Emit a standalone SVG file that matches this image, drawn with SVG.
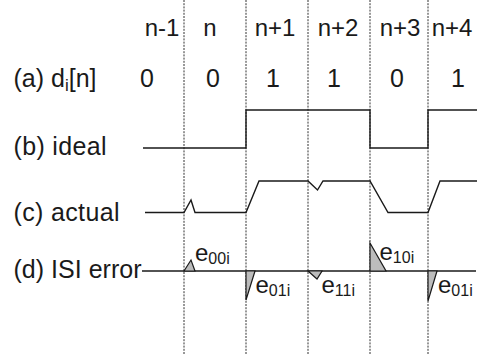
<svg xmlns="http://www.w3.org/2000/svg" width="489" height="354" viewBox="0 0 489 354">
<style>
text{font-family:"Liberation Sans",Arial,sans-serif;fill:#1a1a1a}
.lab{font-size:25px}
.hdr{font-size:24px;text-anchor:middle}
.val{font-size:25px;text-anchor:middle}
.e{font-size:24px}
.sub{font-size:16px}
.grid{stroke:#333;stroke-width:1;stroke-dasharray:2,1.2;fill:none}
.wave{stroke:#1a1a1a;stroke-width:1.4;fill:none;stroke-linejoin:miter}
.err{fill:#bcbcbc;stroke:#1a1a1a;stroke-width:1.2}
</style>
<rect width="489" height="354" fill="#fff"/>
<g id="grid">
<line class="grid" x1="184" y1="0" x2="184" y2="354"/>
<line class="grid" x1="246" y1="0" x2="246" y2="354"/>
<line class="grid" x1="308" y1="0" x2="308" y2="354"/>
<line class="grid" x1="370" y1="0" x2="370" y2="354"/>
<line class="grid" x1="428" y1="0" x2="428" y2="354"/>
</g>
<g id="header">
<text class="hdr" x="162" y="36">n-1</text>
<text class="hdr" x="210" y="36">n</text>
<text class="hdr" x="275" y="36">n+1</text>
<text class="hdr" x="338" y="36">n+2</text>
<text class="hdr" x="400" y="36">n+3</text>
<text class="hdr" x="452" y="36">n+4</text>
</g>
<g id="row-a">
<text class="lab" x="13.5" y="87">(a) d<tspan font-size="17" dy="4">i</tspan><tspan dy="-4">[n]</tspan></text>
<text class="val" x="147" y="87">0</text>
<text class="val" x="213" y="87">0</text>
<text class="val" x="273" y="87">1</text>
<text class="val" x="334" y="87">1</text>
<text class="val" x="397" y="87">0</text>
<text class="val" x="458" y="87">1</text>
</g>
<g id="row-b">
<text class="lab" x="13.5" y="155" textLength="93">(b) ideal</text>
<path class="wave" d="M143,148 H246 V110 H370 V148 H428 V110 H477"/>
</g>
<g id="row-c">
<text class="lab" x="13.5" y="221" textLength="106">(c) actual</text>
<path class="wave" d="M145,212.5 H184 L191,200 L195,212.5 H246 L259,181 H308 L317.5,190 L323,181 H370 L388,212.5 H428 L440,181 H477"/>
</g>
<g id="row-d">
<text class="lab" x="13.5" y="278" textLength="128">(d) ISI error</text>
<line class="wave" x1="142" y1="271" x2="476" y2="271"/>
<path class="err" d="M184,271 L191,260 L195,271 Z"/>
<path class="err" d="M246,271 V300 L255,271 Z"/>
<path class="err" d="M308,271 L317,279 L322,271 Z"/>
<path class="err" d="M370,271 V243 L386,271 Z"/>
<path class="err" d="M428,271 V301 L437,271 Z"/>
<text class="e" x="195" y="261">e<tspan class="sub" dy="3">00i</tspan></text>
<text class="e" x="255.5" y="293">e<tspan class="sub" dy="3">01i</tspan></text>
<text class="e" x="321.5" y="293">e<tspan class="sub" dy="3">11i</tspan></text>
<text class="e" x="379.5" y="260">e<tspan class="sub" dy="3">10i</tspan></text>
<text class="e" x="438" y="293">e<tspan class="sub" dy="3">01i</tspan></text>
</g>
</svg>
